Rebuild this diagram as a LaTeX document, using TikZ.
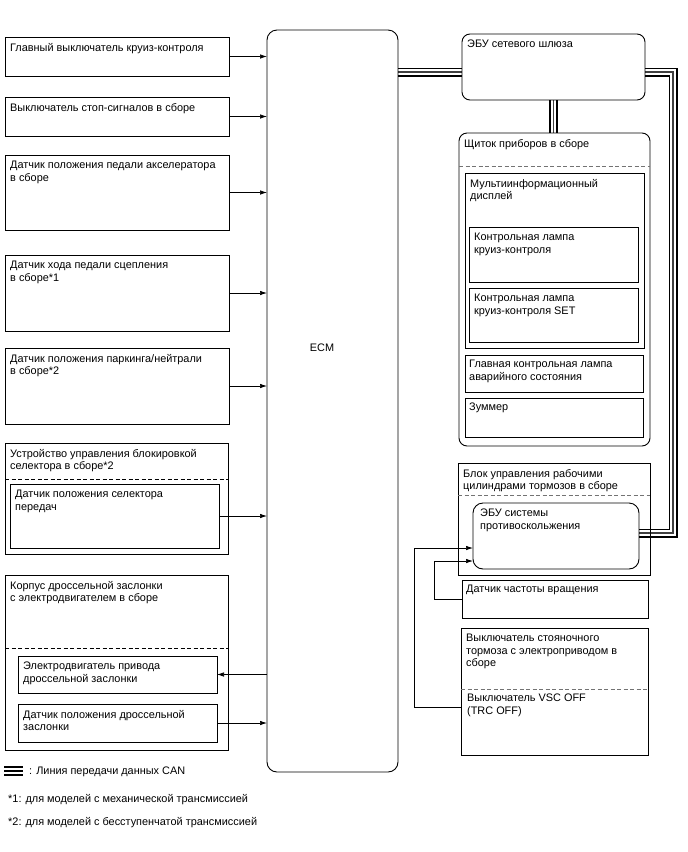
\documentclass[tikz,border=0pt]{standalone}
\usepackage{fontspec}
\setmainfont{Liberation Sans}
\usetikzlibrary{arrows.meta,calc}
\pgfdeclarelayer{bg}
\pgfsetlayers{bg,main}
\newcommand\mkbox[6][box]{\node[#1, minimum width={#5-#3}, minimum height={#6-#4}] (#2) at (#3,#4) {};}
\begin{document}
\begin{tikzpicture}[x=1pt,y=-1pt,
  box/.style={draw, line width=0.9pt, inner sep=0pt, outer sep=0pt, anchor=north west},
  rbox/.style={box, rounded corners=8pt},
  ecmbox/.style={box, rounded corners=10pt},
  lbl/.style={anchor=north west, inner sep=0pt, align=left, font=\fontsize{10.9}{12.4}\selectfont},
  arr/.style={line width=0.7pt, -{Latex[length=7pt,width=4.5pt]}},
  conn/.style={line width=0.7pt},
  dline/.style={dashed, dash pattern=on 4pt off 2.5pt, line width=0.8pt},
  gline/.style={dline, black!55},
  can/.style={line width=9pt, line join=miter, postaction={draw, white, line width=5.4pt}, postaction={draw, black!75, line width=1.3pt}}
]
\useasboundingbox (0,0) rectangle (688,852);

% left boxes
\mkbox{b1}{5}{37}{229}{76}
\mkbox{b2}{5}{97}{229}{136}
\mkbox{b3}{5}{155}{229}{230}
\mkbox{b4}{5}{255}{229}{331}
\mkbox{b5}{5}{348}{229}{424}
\mkbox{sel}{5}{443}{228}{554}
\mkbox{selin}{10}{484}{219}{548}
\mkbox{thr}{5}{575}{228}{750}
\mkbox{thm}{18}{656}{217}{693}
\mkbox{ths}{18}{704}{217}{742}
\draw[dline] (5,479) -- (228,479);
\draw[dline] (5,648) -- (228,648);

\node[lbl] (b1t) at ($(b1.north west)+(5,6)$) {Главный выключатель круиз-контроля};
\node[lbl] (b2t) at ($(b2.north west)+(5,6)$) {Выключатель стоп-сигналов в сборе};
\node[lbl] (b3t) at ($(b3.north west)+(5,6)$) {Датчик положения педали акселератора\\в сборе};
\node[lbl] (b4t) at ($(b4.north west)+(5,6)$) {Датчик хода педали сцепления\\в сборе*1};
\node[lbl] (b5t) at ($(b5.north west)+(5,6)$) {Датчик положения паркинга/нейтрали\\в сборе*2};
\node[lbl] (selt) at ($(sel.north west)+(5,6)$) {Устройство управления блокировкой\\селектора в сборе*2};
\node[lbl] (selint) at ($(selin.north west)+(5,6)$) {Датчик положения селектора\\передач};
\node[lbl] (thrt) at ($(thr.north west)+(5,6)$) {Корпус дроссельной заслонки\\с электродвигателем в сборе};
\node[lbl] (thmt) at ($(thm.north west)+(5,6)$) {Электродвигатель привода\\дроссельной заслонки};
\node[lbl] (thst) at ($(ths.north west)+(5,6)$) {Датчик положения дроссельной\\заслонки};

% ECM
\mkbox[ecmbox]{ecm}{267}{30}{398}{772}
\node[lbl, anchor=center] (ecmt) at (322,348) {ECM};

% right side
\mkbox[rbox]{gw}{462}{34}{645}{100}
\node[lbl] (gwt) at ($(gw.north west)+(5,6)$) {ЭБУ сетевого шлюза};
\mkbox[rbox]{cl}{459}{133}{650}{446}
\node[lbl] (clt) at ($(cl.north west)+(5,6)$) {Щиток приборов в сборе};
\draw[gline] (459,166) -- (650,166);
\mkbox{mi}{465}{173}{644}{348}
\node[lbl] (mit) at ($(mi.north west)+(5,6)$) {Мультиинформационный\\дисплей};
\mkbox{l1}{469}{227}{638}{282}
\node[lbl] (l1t) at ($(l1.north west)+(5,6)$) {Контрольная лампа\\круиз-контроля};
\mkbox{l2}{469}{288}{638}{342}
\node[lbl] (l2t) at ($(l2.north west)+(5,6)$) {Контрольная лампа\\круиз-контроля SET};
\mkbox{ml}{465}{355}{643}{392}
\node[lbl] (mlt) at ($(ml.north west)+(4,5)$) {Главная контрольная лампа\\аварийного состояния};
\mkbox{bz}{465}{398}{643}{437}
\node[lbl] (bzt) at ($(bz.north west)+(4,5)$) {Зуммер};

\mkbox{br}{458}{463}{650}{575}
\node[lbl] (brt) at ($(br.north west)+(5,6)$) {Блок управления рабочими\\цилиндрами тормозов в сборе};
\draw[gline] (458,495) -- (650,495);
\mkbox[ecmbox]{abs}{473}{503}{639}{569}
\node[lbl] (abst) at ($(abs.north west)+(7,6)$) {ЭБУ системы\\противоскольжения};

\mkbox{sp}{462}{580}{648}{618}
\node[lbl] (spt) at ($(sp.north west)+(4,5)$) {Датчик частоты вращения};

\mkbox{pb}{461}{628}{648}{755}
\node[lbl] (pbt) at ($(pb.north west)+(5,6)$) {Выключатель стояночного\\тормоза с электроприводом в\\сборе};
\draw[gline] (461,689) -- (648,689);
\node[lbl] (vsct) at (467,694) {Выключатель VSC OFF\\(TRC OFF)};

% left connectors
\draw[arr] (b1.east) -- (b1.east -| ecm.west);
\draw[arr] (b2.east) -- (b2.east -| ecm.west);
\draw[arr] (b3.east) -- (b3.east -| ecm.west);
\draw[arr] (b4.east) -- (b4.east -| ecm.west);
\draw[arr] (b5.east) -- (b5.east -| ecm.west);
\draw[arr] (selin.east) -- (selin.east -| ecm.west);
\draw[arr] (thm.east -| ecm.west) -- (thm.east);
\draw[arr] (ths.east) -- (ths.east -| ecm.west);

% right connectors
\coordinate (j1) at (414,707);
\coordinate (x2) at (434,0);
\coordinate (ya1) at (0,548);
\coordinate (ya2) at (0,561);
\draw[arr] (pb.west |- j1) -- (j1) |- (abs.west |- ya1);
\draw[arr] (sp.west) -- (sp.west -| x2) |- (abs.west |- ya2);

% CAN lines
\coordinate (canA) at (0,72);
\coordinate (cr1) at (673,72);
\coordinate (cr2) at (673,533);
\begin{pgfonlayer}{bg}
\draw[can] (ecm.east |- canA) -- (gw.west |- canA);
\draw[can] (gw.east |- cr1) -- (cr1) -- (cr2) -- (abs.east |- cr2);
\draw[can] (gw.south) -- (gw.south |- cl.north);
\end{pgfonlayer}

% legend
\draw[line width=1.4pt] (4,767) -- (23,767);
\draw[line width=1.4pt] (4,771) -- (23,771);
\draw[line width=1.4pt] (4,775) -- (23,775);
\node[lbl, anchor=west] (leg1) at (29,772) {: Линия передачи данных CAN};
\node[lbl, anchor=west] (leg2) at (8,800) {*1: для моделей с механической трансмиссией};
\node[lbl, anchor=west] (leg3) at (8,823) {*2: для моделей с бесступенчатой трансмиссией};
\end{tikzpicture}
\end{document}
